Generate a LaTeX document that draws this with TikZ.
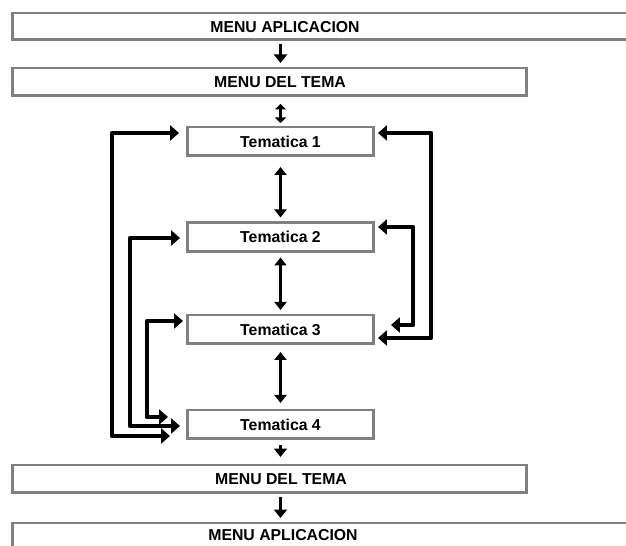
\documentclass[tikz,border=0pt]{standalone}
\usepackage{fontspec}
\setmainfont{Liberation Sans}
\usetikzlibrary{arrows.meta}

\begin{document}
\begin{tikzpicture}[x = 0.02cm, y = -0.02cm,
  box/.style = {draw = gray, line width = 1.7pt, inner sep = 0pt, outer sep = 0pt},
  txt/.style = {font = \fontsize{9}{10}\selectfont\bfseries},
  down/.style = {line width = 1.6pt, -{Triangle[length = 0.17cm, width = 0.26cm]}},
  twoway/.style = {line width = 1.3pt, {Triangle[length = 0.16cm, width = 0.24cm]}-{Triangle[length = 0.16cm, width = 0.24cm]}},
  shorttwoway/.style = {line width = 1.3pt, {Triangle[length = 0.11cm, width = 0.22cm]}-{Triangle[length = 0.11cm, width = 0.22cm]}},
  back/.style = {line width = 2.6pt, line join = round, {Triangle[length = 0.18cm, width = 0.3cm]}-{Triangle[length = 0.18cm, width = 0.3cm]}}]
\useasboundingbox (0, 0) rectangle (626, 546);
\clip (0, 0) rectangle (626, 546);
%\draw[very thin, color = gray](0, 0) grid[step = 50] (626, 546);
% menus
\node [box, minimum width = 12.56cm, minimum height = 0.54cm] (apl1) at (326, 26.5) {};
\node [txt] (apl1txt) at (285, 27) {MENU APLICACION};
\node [box, minimum width = 10.3cm, minimum height = 0.56cm] (del1) at (269.5, 82) {};
\node [txt] (del1txt) at (280, 82) {MENU DEL TEMA};
\node [box, minimum width = 10.3cm, minimum height = 0.56cm] (del2) at (269.5, 479) {};
\node [txt] (del2txt) at (281, 479) {MENU DEL TEMA};
\node [box, minimum width = 12.56cm, minimum height = 0.6cm] (apl2) at (326, 538) {};
\node [txt] (apl2txt) at (283, 535) {MENU APLICACION};
% tematicas
\node [box, txt, minimum width = 3.74cm, minimum height = 0.58cm] (tem1) at (280.5, 141.5) {Tematica 1};
\node [box, txt, minimum width = 3.74cm, minimum height = 0.58cm] (tem2) at (280.5, 237) {Tematica 2};
\node [box, txt, minimum width = 3.74cm, minimum height = 0.58cm] (tem3) at (280.5, 329.5) {Tematica 3};
\node [box, txt, minimum width = 3.74cm, minimum height = 0.58cm] (tem4) at (280.5, 424.5) {Tematica 4};
% vertical arrows
\draw [down, shorten <= 0.08cm, shorten >= 0.1cm] (apl1.south -| tem1) -- (del1.north -| tem1);
\draw [shorttwoway, shorten <= 0.16cm, shorten >= 0.08cm] (del1.south -| tem1) -- (tem1.north);
\draw [twoway, shorten <= 0.22cm, shorten >= 0.1cm] (tem1) -- (tem2);
\draw [twoway, shorten <= 0.12cm, shorten >= 0.1cm] (tem2) -- (tem3);
\draw [twoway, shorten <= 0.16cm, shorten >= 0.14cm] (tem3) -- (tem4);
\draw [down, shorten <= 0.12cm, shorten >= 0.16cm] (tem4.south) -- (del2.north -| tem4);
\draw [down, shorten <= 0.08cm, shorten >= 0.1cm] (del2.south -| tem4) -- (apl2.north -| tem4);
% left loops
\draw [back] ([shift = {(-8, -8.5)}]tem1.west) -- ++(-67, 0) |- ([shift = {(-17, 11.5)}]tem4.west);
\draw [back] ([shift = {(-7, 1)}]tem2.west) -- ++(-50, 0) |- ([shift = {(-7, 1.5)}]tem4.west);
\draw [back] ([shift = {(-4, -8.5)}]tem3.west) -- ++(-36, 0) |- ([shift = {(-19, -7.5)}]tem4.west);
% right loops
\draw [back] ([shift = {(4, -8.5)}]tem1.east) -- ++(53, 0) |- ([shift = {(4, 8.5)}]tem3.east);
\draw [back] ([shift = {(4, -10)}]tem2.east) -- ++(35, 0) |- ([shift = {(17, -4.5)}]tem3.east);
\end{tikzpicture}
\end{document}
